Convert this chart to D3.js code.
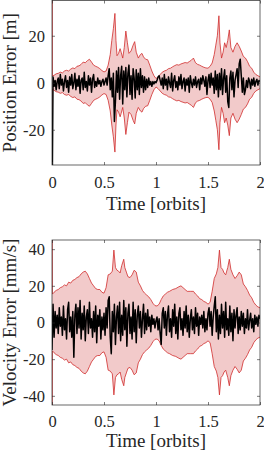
<!DOCTYPE html>
<html lang="en">
<head>
<meta charset="UTF-8">
<script src="https://d3js.org/d3.v7.min.js"></script>
<style>
  body { margin: 0; background: #fff; }
  svg { display: block; }
  text { font-family: "Liberation Serif", "Times New Roman", serif; fill: #262626; }
</style>
</head>
<body>
<div id="chart"></div>
<script>
// x ticks / y ticks
const timeTicks = [0, 0.5, 1, 1.5, 2];
const timeTickLabels = ["0", "0.5", "1", "1.5", "2"];
const posTicks = [-20, 0, 20];
const velTicks = [-40, -20, 0, 20, 40];

// 3-sigma bound knots (time in orbits, value)
const posBoundT = [0, 0.004, 0.02, 0.04, 0.06, 0.08, 0.10, 0.12, 0.14, 0.16, 0.18, 0.20, 0.22, 0.24, 0.26, 0.28, 0.30, 0.32, 0.34, 0.36, 0.38, 0.40, 0.42, 0.44, 0.46, 0.48, 0.50, 0.52, 0.54, 0.56, 0.575, 0.59, 0.605, 0.615, 0.625, 0.64, 0.655, 0.665, 0.68, 0.695, 0.71, 0.725, 0.74, 0.76, 0.78, 0.795, 0.81, 0.83, 0.85, 0.865, 0.88, 0.90, 0.92, 0.94, 0.96, 0.98, 1.00,
  1.02, 1.04, 1.06, 1.08, 1.10, 1.12, 1.14, 1.16, 1.18, 1.20, 1.22, 1.24, 1.26, 1.28, 1.30, 1.32, 1.34, 1.36, 1.38, 1.40, 1.42, 1.44, 1.46, 1.48, 1.50, 1.52, 1.54, 1.56, 1.575, 1.59, 1.605, 1.615, 1.63, 1.645, 1.66, 1.675, 1.69, 1.705, 1.72, 1.74, 1.76, 1.78, 1.80, 1.82, 1.84, 1.86, 1.88, 1.90, 1.92, 1.94, 1.96, 1.98, 2.00];
const posBound = [150, 2.8, 3.2, 3.8, 4.0, 4.5, 4.2, 5.0, 5.3, 5.0, 5.8, 6.3, 6.0, 7.0, 7.2, 7.8, 8.8, 8.5, 9.4, 10.0, 8.8, 7.5, 7.0, 6.6, 6.0, 5.2, 4.6, 5.0, 7.5, 12.0, 18.0, 23.0, 29.5, 18.0, 11.5, 12.5, 14.5, 13.0, 10.5, 15.0, 22.0, 17.0, 12.5, 13.5, 16.0, 17.5, 13.0, 10.5, 12.0, 12.5, 11.0, 10.0, 9.8, 7.5, 5.0, 3.0, 1.8,
  2.5, 3.5, 4.5, 5.0, 5.3, 6.0, 6.2, 6.8, 7.3, 7.7, 7.5, 8.0, 8.3, 8.6, 8.4, 9.0, 9.6, 10.5, 8.5, 7.8, 7.5, 7.0, 6.6, 6.3, 6.2, 7.0, 8.4, 12.0, 16.0, 20.0, 28.5, 17.0, 10.5, 13.0, 17.0, 15.0, 18.0, 22.5, 15.0, 13.0, 15.5, 17.0, 15.5, 13.5, 11.2, 10.5, 9.0, 7.0, 6.2, 4.5, 3.5, 3.0, 2.5];

const velBoundT = [0, 0.004, 0.02, 0.04, 0.06, 0.08, 0.10, 0.12, 0.14, 0.16, 0.18, 0.20, 0.22, 0.24, 0.26, 0.28, 0.30, 0.32, 0.34, 0.36, 0.38, 0.40, 0.42, 0.44, 0.46, 0.48, 0.50, 0.52, 0.54, 0.56, 0.58, 0.595, 0.61, 0.625, 0.64, 0.655, 0.67, 0.69, 0.70, 0.715, 0.73, 0.75, 0.77, 0.79, 0.81, 0.83, 0.85, 0.87, 0.89, 0.91, 0.93, 0.95, 0.97, 0.99,
  1.01, 1.03, 1.05, 1.07, 1.09, 1.11, 1.13, 1.16, 1.19, 1.22, 1.24, 1.26, 1.28, 1.30, 1.33, 1.36, 1.38, 1.40, 1.42, 1.44, 1.46, 1.48, 1.50, 1.52, 1.54, 1.56, 1.58, 1.595, 1.61, 1.625, 1.64, 1.655, 1.67, 1.69, 1.705, 1.72, 1.74, 1.76, 1.78, 1.80, 1.82, 1.84, 1.86, 1.88, 1.90, 1.92, 1.94, 1.96, 1.98, 2.00];
const velBound = [120, 15.5, 16.5, 17.5, 18.0, 19.0, 19.5, 20.5, 20.0, 22.0, 21.5, 23.0, 23.5, 24.5, 25.0, 26.5, 27.5, 28.0, 26.5, 24.0, 21.5, 20.0, 18.5, 18.0, 18.0, 16.5, 16.0, 19.0, 26.0, 26.5, 28.0, 39.5, 30.0, 28.5, 28.0, 27.0, 31.0, 34.5, 30.0, 27.5, 25.0, 24.5, 26.0, 28.5, 27.5, 22.0, 20.0, 17.5, 16.0, 15.0, 14.0, 12.5, 10.5, 9.2,
  9.0, 10.0, 12.5, 14.5, 15.5, 16.5, 17.0, 18.0, 18.5, 19.5, 20.0, 19.0, 18.0, 17.0, 17.0, 17.0, 15.5, 14.5, 13.0, 12.5, 11.5, 11.0, 10.0, 11.0, 17.0, 24.0, 26.5, 30.0, 39.5, 30.0, 29.0, 27.0, 26.0, 30.0, 34.5, 29.0, 26.0, 24.0, 25.5, 27.5, 26.0, 21.0, 19.5, 17.5, 15.0, 13.5, 11.0, 9.5, 8.5, 8.0];

// estimation errors, one sample every 0.01 orbit
const posErr = [-60, 2.5, -1.5, 1.0, -3.0, 0.5, 2.0, -2.5, 3.5, -1.0, 1.5, -3.5, 0.5, 3.0, -2.0, 1.0, -4.0, 2.5, -1.0, 3.5, -2.5, 0.0, 4.0, -3.0, 1.5, -1.5, 3.0, -4.5, 1.0, 2.0, -3.0, 4.5, -2.0, 0.5, -3.5, 3.0, -1.0, 2.0, -4.0, 1.5, 3.5, -2.0, 0.5, -1.5, 2.0, -0.5, 1.0, -1.5, 0.5, 1.5, -1.0,
  0.5, 2.0, -1.0, 3.0, 6.0, -3.0, 2.0, -6.0, 4.0, -16.5, -8.0, 5.0, -4.0, 6.5, -7.0, 3.0, 7.0, -9.0, 5.0, -3.0, 6.5, -6.0, 4.0, 7.5, -5.0, 3.0, -7.0, 6.0, 2.0, -6.5, 5.5, -3.0, 4.0, -5.0, 6.0, -2.0, 3.0, -4.0, 2.5, -3.0, 1.5, -2.0, 2.0, -1.0, 0.5, -1.5, 0.5, -0.5, 0.5, 0.0,
  1.0, 2.5, 3.0, 1.0, -1.0, 2.0, -2.5, 3.5, -1.0, 1.5, -3.0, 2.5, 0.0, -2.0, 4.0, -3.5, 1.0, 3.0, -2.0, 0.5, -3.0, 2.5, -1.0, 3.5, -2.5, 0.5, 2.0, -3.5, 1.5, -1.0, 2.0, -4.0, 3.0, 0.0, -2.0, 1.5, -1.0, 2.5, -2.0, 0.5, 1.5, -3.0, 2.0, -0.5, 3.0, 1.0, -1.5, 2.5, -5.0, 1.0,
  3.5, -2.0, 4.0, -1.0, 2.0, -4.5, 5.0, -3.0, 3.5, -6.0, 4.0, -3.0, 6.0, -5.0, 2.0, 5.5, -4.0, 3.0, -8.0, -10.5, 2.0, 5.0, -3.0, 4.5, -6.0, 1.0, 3.5, 6.0, -2.0, 8.0, 10.0, 3.0, -4.0, 2.0, -5.0, -3.0, 1.0, -2.0, 2.0, 0.5, -2.5, 1.5, -1.0, 2.0, -1.5, 0.5, 1.5, -1.0, 1.0, 0.5];

const velErr = [-15, 10, -8, 6, -3, 4, -6, 8, -2, 3, -7, 9, -4, 2, -9, 7, 11, -5, 3, -8, 6, -19, 4, 10, -6, 8, -3, 12, -9, 5, -4, 9, -10, 3, 7, -6, 11, -3, 2, -8, 6, -5, 9, -11, 4, -2, 7, -9, 3, -4, 5,
  -7, 8, -3, 12, 14, -8, -17, 6, -5, 10, -12, 3, 9, -6, 11, -10, 4, -7, 12, -4, 8, -13, 5, 10, -6, 3, -9, 11, -5, 7, -11, 4, 9, -3, 6, -8, 2, 10, -6, 5, -4, 7, -2, 3, -5, 4, -1, 2, -3, 1,
  3, -4, 2, -6, -12, 5, 8, -3, 6, -7, 4, 9, -5, 2, -8, 7, -2, 10, -6, 3, -9, 5, 8, -4, 2, -7, 6, -3, 9, -5, 4, -8, 2, 7, -4, 3, -6, 8, -2, 5, -7, 3, -1, 4, -3, 6, -5, 2, -4, 5,
  8, -2, 6, -7, 3, 9, 14, -5, 7, -9, 4, -6, 10, -3, 6, -8, 11, -4, 2, -7, 9, -5, 5, -10, 7, -3, 4, 8, -6, 3, -4, 6, -2, 5, -6, 2, -3, 7, -4, 1, 5, -3, 2, -5, 4, -1, 3, -2, 4, 2];

const errT = d3.range(posErr.length).map(i => i / 100);

const W = 264, H = 454;
const svg = d3.select("#chart").append("svg")
  .attr("width", W)
  .attr("height", H);

const x = d3.scaleLinear().domain([0, 2]).range([52, 260]);

function drawPanel(id, top, bottom, yDomain, yTicks, boundT, bound, err, yLabel, tickBase, labelBase) {
  const y = d3.scaleLinear().domain(yDomain).range([bottom, top]);
  const g = svg.append("g");

  g.append("clipPath").attr("id", "clip-" + id)
    .append("rect")
    .attr("x", 52).attr("y", top)
    .attr("width", 208).attr("height", bottom - top);

  const plot = g.append("g").attr("clip-path", "url(#clip-" + id + ")");

  const band = boundT.map((t, i) => ({ t: t, b: bound[i] }));

  plot.append("path")
    .datum(band)
    .attr("fill", "#f2caca")
    .attr("d", d3.area().x(d => x(d.t)).y0(d => y(-d.b)).y1(d => y(d.b)));

  plot.append("path")
    .datum(band)
    .attr("fill", "none")
    .attr("stroke", "#d02c2c")
    .attr("stroke-width", 0.8)
    .attr("d", d3.line().x(d => x(d.t)).y(d => y(d.b)));

  plot.append("path")
    .datum(band)
    .attr("fill", "none")
    .attr("stroke", "#d02c2c")
    .attr("stroke-width", 0.8)
    .attr("d", d3.line().x(d => x(d.t)).y(d => y(-d.b)));

  plot.append("path")
    .datum(err.map((v, i) => ({ t: errT[i], v: v })))
    .attr("fill", "none")
    .attr("stroke", "#000")
    .attr("stroke-width", 1.5)
    .attr("stroke-linejoin", "round")
    .attr("d", d3.line().x(d => x(d.t)).y(d => y(d.v)));

  // axes, ticks pointing inward on all four sides
  g.append("g").attr("transform", "translate(0," + bottom + ")")
    .call(d3.axisBottom(x).tickValues(timeTicks)
      .tickFormat((d, i) => timeTickLabels[i])
      .tickSizeInner(-3).tickSizeOuter(0).tickPadding(tickBase - 11.7));
  g.append("g").attr("transform", "translate(52,0)")
    .call(d3.axisLeft(y).tickValues(yTicks).tickFormat(d => String(d))
      .tickSizeInner(-3).tickSizeOuter(0).tickPadding(7));
  g.append("g").attr("transform", "translate(0," + top + ")")
    .call(d3.axisTop(x).tickValues(timeTicks).tickFormat("").tickSizeInner(-3).tickSizeOuter(0));
  g.append("g").attr("transform", "translate(260,0)")
    .call(d3.axisRight(y).tickValues(yTicks).tickFormat("").tickSizeInner(-3).tickSizeOuter(0));

  g.selectAll(".domain").remove();
  g.selectAll(".tick line").attr("stroke", "#262626").attr("stroke-width", 0.6);
  g.selectAll(".tick text")
    .attr("fill", "#262626")
    .style("font-family", "'Liberation Serif', 'Times New Roman', serif")
    .style("font-size", "16.5px");

  g.append("rect")
    .attr("x", 52).attr("y", top)
    .attr("width", 208).attr("height", bottom - top)
    .attr("fill", "none")
    .attr("stroke", "#262626")
    .attr("stroke-width", 0.7);

  g.append("text")
    .attr("x", 156).attr("y", labelBase)
    .attr("text-anchor", "middle")
    .style("font-size", "19px")
    .text("Time [orbits]");

  g.append("text")
    .attr("transform", "translate(16," + ((top + bottom) / 2) + ") rotate(-90)")
    .attr("text-anchor", "middle")
    .style("font-size", "19px")
    .text(yLabel);
}

drawPanel("pos", 0.5, 165, [-35, 35], posTicks, posBoundT, posBound, posErr, "Position Error [m]", 23, 210);
drawPanel("vel", 240, 405, [-45, 45], velTicks, velBoundT, velBound, velErr, "Velocity Error [mm/s]", 22, 447);
</script>
</body>
</html>
